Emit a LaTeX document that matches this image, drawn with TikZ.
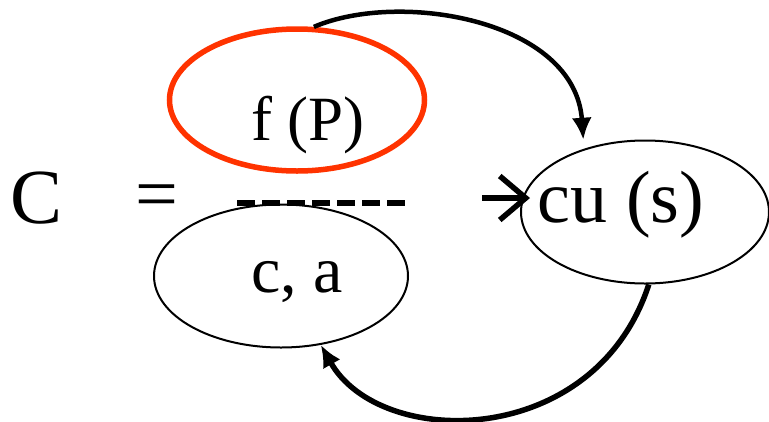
\documentclass[tikz,border=0pt]{standalone}
\usepackage{fontspec}
\setmainfont{Liberation Serif}
\usepackage{tikz}
\usetikzlibrary{arrows.meta,positioning,calc,shapes.geometric}
\definecolor{ovalred}{RGB}{255,51,0}

\begin{document}
\begin{tikzpicture}[x=1pt,y=-1pt,
  oval/.style={draw,ellipse,inner sep=0pt,line width=2pt},
  lbl/.style={anchor=base,inner sep=0pt},
  arr/.style={-{Latex[length=22pt,width=20pt]},line width=4.5pt}]
  \useasboundingbox (0,0) rectangle (769,421);
  \node[oval,draw=ovalred,line width=5.5pt,minimum width=255pt,minimum height=142pt] (fp) at (297,100) {};
  \node[oval,minimum width=254pt,minimum height=143pt] (ca) at (281,276) {};
  \node[oval,minimum width=248pt,minimum height=143pt] (cu) at (645,212) {};
  \node[lbl,font=\fontsize{63}{70}\selectfont] (fptext) at (308,140) {f (P)};
  \node[lbl,font=\fontsize{66}{70}\selectfont] (catext) at (297,292) {c, a};
  \node[lbl,font=\fontsize{74}{80}\selectfont] (cutext) at (621,222) {cu (s)};
  \node[lbl,font=\fontsize{78}{80}\selectfont] (cname) at (37,223) {C};
  \node[inner sep=0pt,font=\fontsize{76}{80}\selectfont] (eq) at (157,202) {=};
  \coordinate (bar1) at (237,203);
  \coordinate (bar2) at (407,203);
  \draw[line width=5.5pt,dash pattern=on 18pt off 7pt] (bar1) -- (bar2);
  \coordinate (into) at (482,198);
  \draw[line width=5.5pt,-{Straight Barb[length=26pt,width=44pt]}] (into) -- ($(into -| cu.west)+(10,0)$);
  \draw[arr,shorten >=9pt] (fp.77) .. controls (400,-10) and (575,20) .. (cu.134);
  \draw[arr,line width=5.5pt] (cu.-87) .. controls (595,450) and (380,450) .. (ca.-60);
\end{tikzpicture}
\end{document}
